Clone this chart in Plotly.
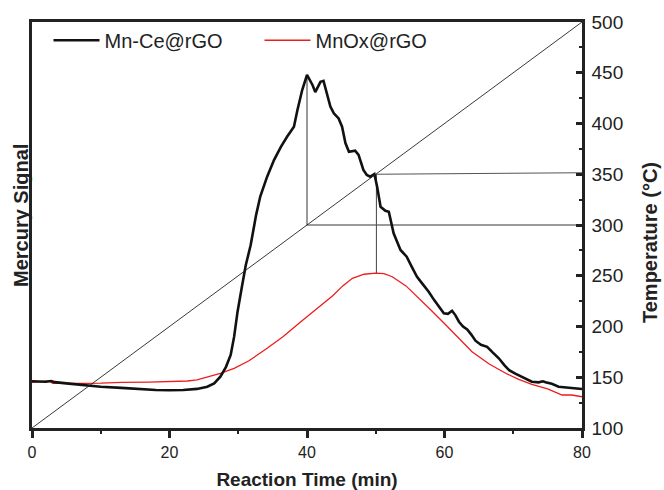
import plotly.graph_objects as go

# Mn-Ce@rGO (black) – signal expressed on the plot's vertical scale
mnce_time = [0, 2, 2.8, 3.3, 5, 8, 10, 13, 16, 18, 20, 22, 24, 25.5, 26.5, 27.4, 28.2, 28.9,
             29.4, 29.9, 30.5, 31.1, 31.8, 32.6, 33.2, 34.2, 35.2, 36.2, 37.1, 38.1, 38.6,
             39.3, 40.0, 40.8, 41.2, 41.96, 42.4, 42.9, 43.4, 43.9, 44.6, 45.1, 45.6, 46.1,
             47.0, 47.5, 48.2, 48.7, 49.2, 49.8, 50.2, 50.7, 51.4, 51.9, 52.6, 53.6, 54.5,
             55.3, 56.0, 56.8, 57.7, 58.5, 59.3, 59.9, 60.5, 61.1, 61.6, 62.1, 62.7, 63.3,
             63.9, 64.5, 65.3, 66.2, 67.0, 67.9, 68.7, 69.4, 70.3, 71.3, 72.0, 72.7, 73.7,
             74.3, 74.7, 75.6, 76.6, 78, 79, 80]
mnce_signal = [146, 145.5, 146.3, 145.2, 144, 142, 140.7, 139.5, 138, 137.4, 137.2, 137.4,
               138.5, 140.7, 144, 150.5, 160, 172, 190, 214.6, 238, 260.6, 280, 310, 328,
               347.6, 364, 377, 387, 396.8, 413, 433, 447.8, 438, 431, 441, 442, 429.8,
               416.6, 410, 405, 396.8, 380.5, 372.2, 373.2, 369, 354.2, 349.3, 347.6, 350.2,
               337.7, 318, 314, 313, 291.8, 275.4, 268.8, 258, 249, 242, 234.3, 226, 218,
               213, 212.5, 215.5, 211, 204.7, 200, 197, 192, 186, 182, 180, 174.5, 168.7,
               162, 157, 153.5, 150.5, 148, 145.6, 145, 146, 145, 143.5, 140.7, 140, 139.5,
               138.4]

# MnOx@rGO (red)
mnox_time = [0, 1, 2.5, 3, 5, 8, 10, 13, 17, 20, 22.6, 24, 25.5, 27.4, 29.4, 31.5, 34.2,
             36.5, 39.1, 41.5, 43.7, 45.2, 46.6, 48.3, 50.0, 51.2, 52.4, 54.4, 56.3, 58.2,
             60.2, 62.1, 64.0, 66.5, 68.9, 70.8, 72.7, 75, 77.1, 78.5, 80]
mnox_signal = [145, 145.5, 146.5, 144, 143.8, 144, 144.2, 145, 145.2, 145.5, 146.3, 147.5,
               150, 153.9, 158.8, 166, 178.5, 190, 204.7, 218, 230, 240, 247.5, 251.5,
               252.6, 252, 249, 240, 227.8, 215, 201.5, 188, 175.2, 163, 153.9, 148, 143,
               138.5, 132.5, 132.5, 130.8]

# Temperature ramp (°C)
ramp_time = [0, 80]
ramp_temp = [100, 500]

# Guide lines
guide1_time = [40, 40, 80]
guide1_val = [447.8, 300, 300]
guide2_time = [50.1, 50.1, 80]
guide2_val = [252.7, 350, 351.5]

FONT = "Liberation Sans, Arial, sans-serif"

fig = go.Figure()
fig.add_trace(go.Scatter(x=ramp_time, y=ramp_temp, mode="lines",
                         line=dict(color="#222", width=0.9), showlegend=False, yaxis="y2"))
fig.add_trace(go.Scatter(x=guide1_time, y=guide1_val, mode="lines",
                         line=dict(color="#7a7a7a", width=1.5), showlegend=False))
fig.add_trace(go.Scatter(x=guide2_time, y=guide2_val, mode="lines",
                         line=dict(color="#555", width=1.1), showlegend=False))
fig.add_trace(go.Scatter(x=mnox_time, y=mnox_signal, mode="lines", name="MnOx@rGO",
                         line=dict(color="#ee1c1c", width=1.3)))
fig.add_trace(go.Scatter(x=mnce_time, y=mnce_signal, mode="lines", name="Mn-Ce@rGO",
                         line=dict(color="#111", width=2.6)))

fig.update_layout(
    width=664, height=490,
    margin=dict(l=32, r=82, t=22, b=62),
    paper_bgcolor="white", plot_bgcolor="white",
    font=dict(family=FONT, color="#222"),
    showlegend=True,
    legend=dict(orientation="h", x=0.03, y=0.955, xanchor="left", yanchor="middle",
                traceorder="reversed", font=dict(size=20, family=FONT, color="#222"),
                itemwidth=46,
                entrywidth=150, entrywidthmode="pixels", bgcolor="rgba(0,0,0,0)"),
    xaxis=dict(range=[0, 80], showline=True, linecolor="#222", linewidth=2.5, mirror=True,
               automargin=False,
               ticks="outside", ticklen=7, tickwidth=2.5, tickcolor="#222",
               tickvals=[0, 20, 40, 60, 80], showgrid=False, zeroline=False,
               ticklabelstandoff=1,
               tickfont=dict(size=16, family=FONT, color="#222"),
               minor=dict(ticks="outside", ticklen=3.5, tickwidth=2, tickcolor="#222",
                          tickvals=[10, 30, 50, 70]),
               title=dict(text="<b>Reaction Time (min)</b>", font=dict(size=19, family=FONT, color="#222"),
                          standoff=24)),
    yaxis=dict(range=[100, 500], showline=True, linecolor="#222", linewidth=2.5,
               automargin=False,
               showticklabels=False, ticks="", showgrid=False, zeroline=False),
    yaxis2=dict(range=[100, 500], overlaying="y", side="right", showline=True,
                automargin=False,
                linecolor="#222", linewidth=2.5, ticks="inside", ticklen=6, tickwidth=2.5,
                tickcolor="#222", dtick=50, tick0=100, showgrid=False, zeroline=False,
                ticklabelstandoff=3,
                tickfont=dict(size=19, family=FONT, color="#222"),
                minor=dict(ticks="inside", ticklen=3.5, tickwidth=2, tickcolor="#222", dtick=25)),
    annotations=[
        dict(text="<b>Mercury Signal</b>", xref="paper", yref="paper", x=0, y=(428 - 216) / 406,
             xanchor="center", yanchor="middle", xshift=-11, textangle=-90, showarrow=False,
             font=dict(size=20, family=FONT, color="#222")),
        dict(text="<b>Temperature (°C)</b>", xref="paper", yref="paper", x=1, y=(428 - 243) / 406,
             xanchor="center", yanchor="middle", xshift=68, textangle=-90, showarrow=False,
             font=dict(size=20, family=FONT, color="#222")),
    ],
)

fig.write_html("out.html")
